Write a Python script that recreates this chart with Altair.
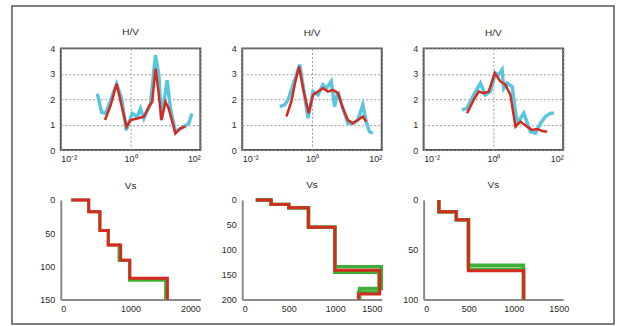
import altair as alt
import pandas as pd

CYAN = "#5cc5de"
RED = "#d52a1f"
GREEN = "#3fae36"
FONT = "Liberation Sans"

# ---------- Top row: H/V curves (x = log10 of frequency) ----------
hv1_cyan_logf = [-0.952, -0.829, -0.714, -0.571, -0.40, -0.257, -0.124, 0.048, 0.19, 0.286, 0.381,
                 0.571, 0.714, 0.81, 0.886, 1.048, 1.143, 1.286, 1.524, 1.667, 1.762]
hv1_cyan_v = [2.22, 1.48, 1.44, 1.96, 2.61, 2.03, 0.78, 1.44, 1.31, 1.63, 1.24,
              1.83, 3.73, 2.94, 1.18, 2.75, 1.63, 0.72, 0.92, 1.05, 1.44]
hv1_red_logf = [-0.733, -0.571, -0.40, -0.238, -0.114, 0.0, 0.19, 0.381, 0.524, 0.619, 0.714,
                0.79, 0.886, 1.0, 1.095, 1.286, 1.429, 1.571]
hv1_red_v = [1.18, 1.76, 2.61, 1.63, 0.92, 1.18, 1.24, 1.31, 1.70, 1.90, 3.20,
             2.42, 1.18, 1.90, 1.63, 0.65, 0.85, 0.92]

hv2_cyan_logf = [-0.924, -0.781, -0.686, -0.543, -0.352, -0.229, -0.114, 0.029, 0.171, 0.314, 0.41,
                 0.552, 0.648, 0.743, 0.838, 1.029, 1.171, 1.314, 1.457, 1.552, 1.648, 1.743]
hv2_cyan_v = [1.71, 1.78, 1.97, 2.57, 3.36, 2.30, 1.25, 2.30, 2.17, 2.57, 2.43,
              2.70, 1.71, 2.30, 1.84, 1.05, 1.05, 1.18, 1.78, 1.12, 0.72, 0.66]
hv2_red_logf = [-0.733, -0.59, -0.476, -0.371, -0.257, -0.095, 0.029, 0.171, 0.314, 0.457, 0.6,
                0.743, 0.886, 1.029, 1.171, 1.314, 1.457, 1.552]
hv2_red_v = [1.32, 1.91, 2.70, 3.29, 2.43, 1.45, 2.17, 2.30, 2.43, 2.30, 2.37,
             2.24, 1.64, 1.18, 1.05, 1.18, 1.32, 1.12]

hv3_cyan_logf = [-0.90, -0.756, -0.565, -0.373, -0.23, -0.086, 0.057, 0.153, 0.249, 0.297, 0.392,
                 0.536, 0.679, 0.871, 1.062, 1.206, 1.349, 1.493, 1.636, 1.732]
hv3_cyan_v = [1.58, 1.64, 2.17, 2.63, 2.17, 2.30, 3.03, 2.96, 3.16, 2.43, 2.63,
              2.50, 1.05, 1.45, 0.72, 0.66, 1.05, 1.32, 1.45, 1.45]
hv3_red_logf = [-0.756, -0.565, -0.421, -0.278, -0.134, 0.038, 0.201, 0.344, 0.488, 0.632, 0.775,
                0.967, 1.11, 1.254, 1.397, 1.541]
hv3_red_v = [1.45, 1.97, 2.30, 2.24, 2.30, 3.03, 2.70, 2.57, 2.17, 0.92, 1.12,
             0.92, 0.79, 0.83, 0.75, 0.72]

hv_ticks_x = [-2, 0, 2]
hv_ticks_y = [0, 1, 2, 3, 4]

# ---------- Bottom row: Vs profiles (velocity, depth) ----------
vs1_red_v = [150, 400, 400, 560, 560, 680, 680, 858, 858, 990, 990, 1528, 1528]
vs1_red_d = [0, 0, 18, 18, 46, 46, 68, 68, 91, 91, 118, 118, 150]
vs1_green_v = [150, 400, 400, 560, 560, 680, 680, 834, 834, 985, 985, 1502, 1502]
vs1_green_d = [0, 0, 18, 18, 46, 46, 68, 68, 91, 91, 121, 121, 150]

vs2_red_v = [146, 310, 310, 500, 500, 712, 712, 996, 996, 1478, 1478, 1252, 1252]
vs2_red_d = [0, 0, 9, 9, 16, 16, 55, 55, 141, 141, 189, 189, 200]
vs2_greenA_v = [146, 310, 310, 500, 500, 712, 712, 996, 996, 1495, 1495, 1262, 1262]
vs2_greenA_d = [0, 0, 9, 9, 16, 16, 55, 55, 134, 134, 178, 178, 200]
vs2_greenB_v = [146, 310, 310, 500, 500, 712, 712, 996, 996, 1470, 1470, 1250, 1250]
vs2_greenB_d = [0, 0, 9, 9, 16, 16, 55, 55, 145, 145, 185, 185, 200]

vs3_red_v = [169, 169, 363, 363, 498, 498, 1112, 1112]
vs3_red_d = [0, 12, 12, 20, 20, 71, 71, 100]
vs3_greenA_v = [169, 169, 363, 363, 498, 498, 1108, 1108]
vs3_greenA_d = [0, 12, 12, 20, 20, 65.5, 65.5, 100]
vs3_greenB_v = [169, 169, 363, 363, 498, 498, 1110, 1110]
vs3_greenB_d = [0, 12, 12, 20, 20, 69.5, 69.5, 100]

W = 140
H_TOP = 102
H_BOT = 100


def hv_panel(cl, cv, rl, rv, frame=False):
    cdf = pd.DataFrame({"lf": cl, "v": cv, "i": list(range(len(cl)))})
    rdf = pd.DataFrame({"lf": rl, "v": rv, "i": list(range(len(rl)))})
    x = alt.X("lf:Q", scale=alt.Scale(domain=[-2, 2], nice=False, zero=False),
              axis=alt.Axis(values=hv_ticks_x, title=None, grid=True, gridDash=[2, 2],
                            gridColor="#9a9a9a", gridWidth=1, domain=False, ticks=False,
                            labelPadding=4,
                            labelExpr="datum.value == -2 ? '10⁻²' : datum.value == 0 ? '10⁰' : '10²'"))
    y = alt.Y("v:Q", scale=alt.Scale(domain=[0, 4], nice=False),
              axis=alt.Axis(values=hv_ticks_y, title=None, grid=True, gridDash=[2, 2],
                            gridColor="#9a9a9a", gridWidth=1, domain=False, ticks=False,
                            labelPadding=6))
    cyan = alt.Chart(cdf).mark_line(color=CYAN, strokeWidth=3.5).encode(x=x, y=y, order="i:Q")
    red = alt.Chart(rdf).mark_line(color=RED, strokeWidth=2.5).encode(x=x, y=y, order="i:Q")
    layers = [cyan, red]
    title_offset = 6
    if frame:
        fr = alt.Chart(pd.DataFrame({"k": [0]})).mark_rect(
            filled=False, stroke="#555555", strokeWidth=1.5).encode(
            x=alt.value(-49), x2=alt.value(555), y=alt.value(-42.5), y2=alt.value(276.5))
        layers = [fr] + layers
        title_offset = -32.25
    return alt.layer(*layers).properties(
        width=W, height=H_TOP,
        title=alt.TitleParams("H/V", offset=title_offset),
        view=alt.ViewBackground(stroke="#555555", strokeWidth=2),
    )


def vs_panel(rv, rd, greens, xmax, xticks, ymax, yticks, gwidth):
    rdf = pd.DataFrame({"vs": rv, "d": rd, "i": list(range(len(rv)))})
    grows = []
    for gi, (gv, gd) in enumerate(greens):
        for k in range(len(gv)):
            grows.append({"vs": gv[k], "d": gd[k], "i": k, "g": gi})
    gdf = pd.DataFrame(grows)
    x = alt.X("vs:Q", scale=alt.Scale(domain=[0, xmax], nice=False),
              axis=alt.Axis(values=xticks, title=None, grid=False, domain=True, format="d",
                            domainColor="#8a8a8a", domainWidth=2, ticks=False, labelPadding=5))
    y = alt.Y("d:Q", scale=alt.Scale(domain=[0, ymax], reverse=True, nice=False),
              axis=alt.Axis(values=yticks, title=None, grid=False, domain=True, format="d",
                            domainColor="#8a8a8a", domainWidth=2, ticks=False, labelPadding=6))
    green = alt.Chart(gdf).mark_line(color=GREEN, strokeWidth=gwidth).encode(
        x=x, y=y, detail="g:N", order="i:Q")
    red = alt.Chart(rdf).mark_line(color=RED, strokeWidth=3).encode(x=x, y=y, order="i:Q")
    return alt.layer(green, red).properties(
        width=W, height=H_BOT, title=alt.TitleParams("Vs", offset=3))


p1 = hv_panel(hv1_cyan_logf, hv1_cyan_v, hv1_red_logf, hv1_red_v, frame=True)
p2 = hv_panel(hv2_cyan_logf, hv2_cyan_v, hv2_red_logf, hv2_red_v)
p3 = hv_panel(hv3_cyan_logf, hv3_cyan_v, hv3_red_logf, hv3_red_v)

b1 = vs_panel(vs1_red_v, vs1_red_d, [(vs1_green_v, vs1_green_d)], 2000, [0, 1000, 2000],
              150, [0, 50, 100, 150], 3)
b2 = vs_panel(vs2_red_v, vs2_red_d, [(vs2_greenA_v, vs2_greenA_d), (vs2_greenB_v, vs2_greenB_d)],
              1500, [0, 500, 1000, 1500], 200, [0, 50, 100, 150, 200], 3.5)
b3 = vs_panel(vs3_red_v, vs3_red_d, [(vs3_greenA_v, vs3_greenA_d), (vs3_greenB_v, vs3_greenB_d)],
              1550, [0, 500, 1000, 1500], 100, [0, 50, 100], 3.5)

chart = alt.concat(p1, p2, p3, b1, b2, b3, columns=3, bounds="flush",
                   spacing={"row": 50, "column": 42}).properties(
    padding={"left": 10, "top": 3, "right": 1, "bottom": 2},
    background="white",
).configure_view(stroke="transparent").configure_axis(
    labelFont=FONT, labelFontSize=9, labelColor="#2a2a2a"
).configure_title(
    font=FONT, fontSize=10, fontWeight="normal", color="#2a2a2a"
)

chart.save("out.html", embed_options={"renderer": "svg", "actions": False})
